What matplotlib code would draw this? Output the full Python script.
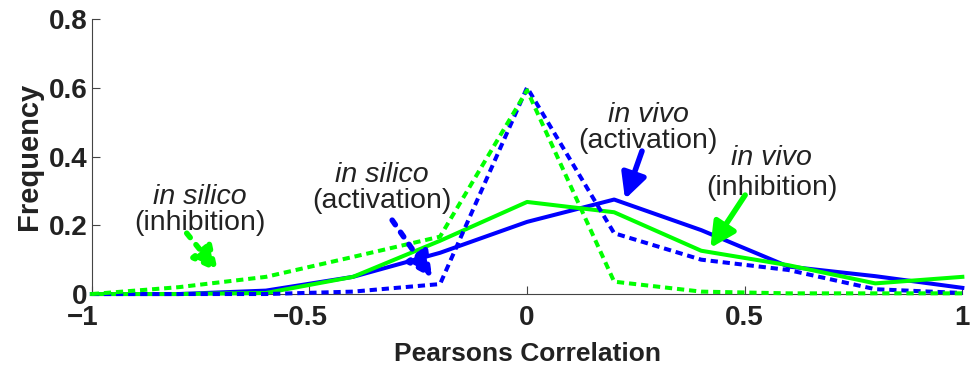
import numpy as np
import matplotlib
matplotlib.use("Agg")
import matplotlib.pyplot as plt
import matplotlib.transforms as mtransforms

plt.rcParams['font.family'] = ['Liberation Sans', 'DejaVu Sans']

# correlation bins and frequency per condition
r_bins = [-1, -0.8, -0.6, -0.4, -0.2, 0, 0.2, 0.4, 0.6, 0.8, 1]
vivo_act = [0, 0, 0.01, 0.05, 0.12, 0.21, 0.275, 0.186, 0.08, 0.052, 0.018]
vivo_inh = [0, 0, 0.003, 0.05, 0.155, 0.268, 0.238, 0.126, 0.084, 0.031, 0.05]
silico_act = [0, 0, 0, 0.007, 0.029, 0.601, 0.177, 0.1, 0.07, 0.014, 0.003]
silico_inh = [0, 0.02, 0.05, 0.108, 0.167, 0.593, 0.036, 0.007, 0.002, 0.002, 0.002]

x_ticks = [-1, -0.5, 0, 0.5, 1]
x_ticklabels = ['\u22121', '\u22120.5', '0', '0.5', '1']
y_ticks = [0, 0.2, 0.4, 0.6, 0.8]
y_ticklabels = ['0', '0.2', '0.4', '0.6', '0.8']

blue = '#0000ff'
green = '#00ff00'
ink = '#222222'
dots = (0, (1.8, 1.2))

fig = plt.figure(figsize=(9.77, 3.68), dpi=100)
ax = fig.add_axes([0.094, 0.201, 0.891, 0.747])

ax.plot(r_bins, vivo_act, color=blue, lw=2.9, clip_on=False, zorder=3)
ax.plot(r_bins, vivo_inh, color=green, lw=2.9, clip_on=False, zorder=3)
ax.plot(r_bins, silico_act, color=blue, lw=2.9, ls=dots, clip_on=False, zorder=3)
ax.plot(r_bins, silico_inh, color=green, lw=2.9, ls=dots, clip_on=False, zorder=3)

# two-line labels: italic source on top, condition below
labels = [
    (-0.752, 0.262, 0.186, 'in silico', '(inhibition)'),
    (-0.334, 0.327, 0.250, 'in silico', '(activation)'),
    (0.278, 0.501, 0.424, 'in vivo', '(activation)'),
    (0.5625, 0.375, 0.288, 'in vivo', '(inhibition)'),
]
for x, y1, y2, top, bottom in labels:
    ax.text(x, y1, top, style='italic', ha='center', va='baseline',
            fontsize=20.5, color=ink)
    ax.text(x, y2, bottom, ha='center', va='baseline', fontsize=20.5, color=ink)

def arrow(tail, head, color, ls):
    ax.annotate('', xy=head, xytext=tail,
                arrowprops=dict(arrowstyle='-|>,head_length=0.75,head_width=0.38',
                                mutation_scale=20, color=color, lw=4, ls=ls,
                                shrinkA=0, shrinkB=0))

arrow((-0.782, 0.177), (-0.710, 0.064), green, ':')
arrow((-0.310, 0.215), (-0.218, 0.047), blue, ':')
arrow((0.264, 0.416), (0.225, 0.276), blue, '-')
arrow((0.501, 0.288), (0.421, 0.134), green, '-')

ax.set_xlim(-1, 1)
ax.set_ylim(0, 0.8)
ax.set_xticks(x_ticks)
ax.set_xticklabels(x_ticklabels)
ax.set_yticks(y_ticks)
ax.set_yticklabels(y_ticklabels)
ax.tick_params(direction='in', length=6, width=0.8, labelsize=20, colors='#444444',
               labelcolor=ink)
ax.tick_params(axis='x', pad=8)
ax.tick_params(axis='y', pad=3)
for lab in ax.get_xticklabels() + ax.get_yticklabels():
    lab.set_fontweight('bold')

# negative labels sit a bit left so the digits line up under the tick
shift = mtransforms.ScaledTranslation(-0.09, 0, fig.dpi_scale_trans)
for val, lab in zip(x_ticks, ax.get_xticklabels()):
    if val < 0:
        lab.set_transform(lab.get_transform() + shift)

for side in ['left', 'bottom']:
    ax.spines[side].set_color('#444444')
ax.spines['top'].set_visible(False)
ax.spines['right'].set_visible(False)
ax.set_xlabel('Pearsons Correlation', fontsize=19, fontweight='bold', color=ink, labelpad=8)
ax.set_ylabel('Frequency', fontsize=21, fontweight='bold', color=ink, labelpad=4)

fig.savefig('out.png', dpi=100)
